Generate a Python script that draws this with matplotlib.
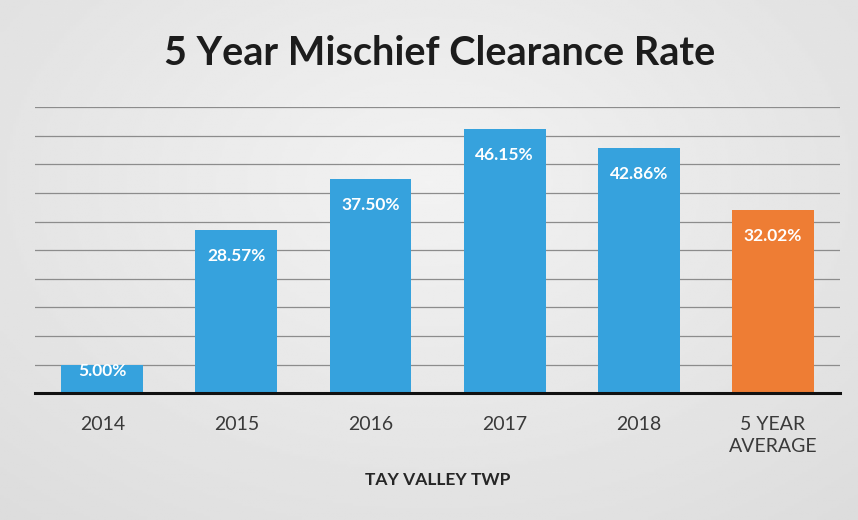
import matplotlib.pyplot as plt
import numpy as np

# values
categories = ['2014', '2015', '2016', '2017', '2018', '5 YEAR\nAVERAGE']
rates = [5.00, 28.57, 37.50, 46.15, 42.86, 32.02]
bar_colors = ['#36a2dd', '#36a2dd', '#36a2dd', '#36a2dd', '#36a2dd', '#ee7d34']
labels = ['5.00%', '28.57%', '37.50%', '46.15%', '42.86%', '32.02%']

plt.rcParams['font.family'] = ['Lato', 'DejaVu Sans']

fig = plt.figure(figsize=(8.58, 5.2), dpi=100)

# scanned-paper look: light grey, a bit whiter in the middle
bg = fig.add_axes([0, 0, 1, 1], zorder=-10)
yy, xx = np.mgrid[0:1:200j, 0:1:300j]
shade = 0.95 - 0.09 * np.sqrt(((xx - 0.5) / 0.8) ** 2 + ((yy - 0.35) / 0.9) ** 2)
bg.imshow(shade, cmap='gray', vmin=0, vmax=1, aspect='auto', extent=[0, 1, 0, 1])
bg.axis('off')

ax = fig.add_axes([0.041, 0.244, 0.938, 0.55])
ax.set_facecolor('none')

x = np.arange(len(categories))
ax.bar(x, rates, width=0.61, color=bar_colors, zorder=3)

ax.set_xlim(-0.5, len(categories) - 0.5)
ax.set_ylim(0, 50)
ax.set_yticks(np.arange(5, 51, 5))
ax.yaxis.grid(True, color='#8c8c8c', linewidth=0.9, zorder=0)
ax.tick_params(axis='y', left=False, labelleft=False)
ax.tick_params(axis='x', bottom=False, pad=13, labelsize=14, labelcolor='#3a3a3a')
ax.set_xticks(x)
ax.set_xticklabels(categories, linespacing=1.35)
for s in ['top', 'right', 'left']:
    ax.spines[s].set_visible(False)
ax.spines['bottom'].set_linewidth(2.2)
ax.spines['bottom'].set_color('#111111')
ax.spines['bottom'].set_zorder(4)

# labels sit inside the bar ends, pushed up on short bars
for xi, v, t in zip(x, rates, labels):
    ly = v - min(4.55, v - 3.85)
    ax.text(xi, ly, t, ha='center', va='center', color='white',
            fontsize=12.5, fontweight='bold', zorder=5)

ax.set_xlabel('TAY VALLEY TWP', fontsize=12.5, fontweight='bold',
              color='#262626', labelpad=12)

fig.text(0.512, 0.898, '5 Year Mischief Clearance Rate', ha='center', va='center',
         fontsize=28.5, fontweight='bold', color='#1c1c1c')

fig.savefig('out.png', dpi=100)
